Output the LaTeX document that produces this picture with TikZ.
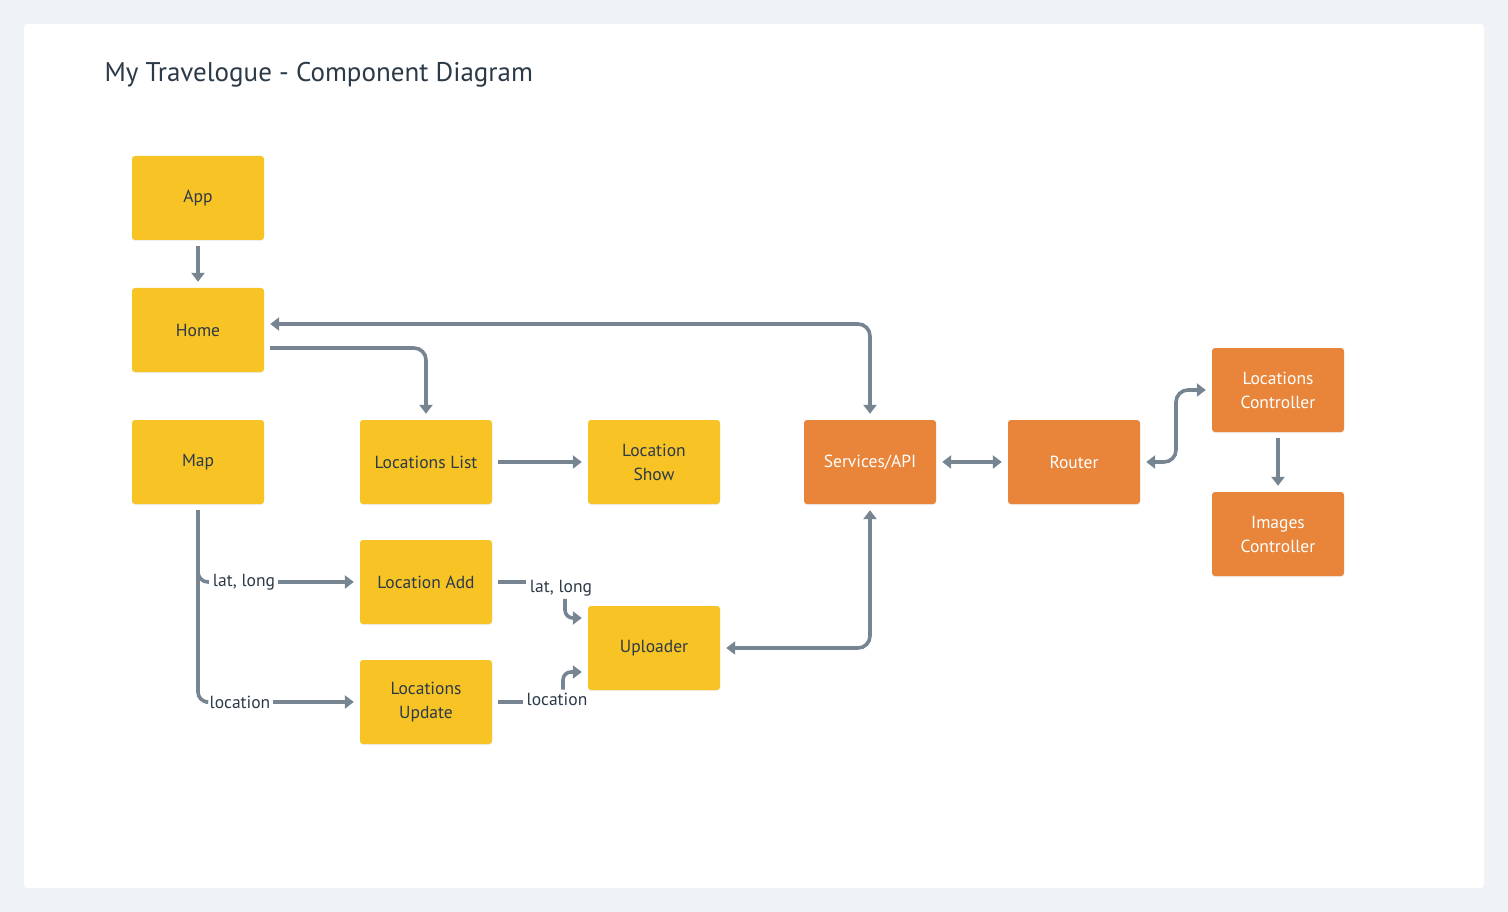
\documentclass[tikz,border=0pt]{standalone}
\usepackage{fontspec}
\setmainfont{PT Sans}
\usetikzlibrary{arrows.meta,calc,shadows}
\definecolor{bgc}{HTML}{F0F3F6}
\definecolor{ycol}{HTML}{F7C325}
\definecolor{ocol}{HTML}{E8853A}
\definecolor{lcol}{HTML}{778592}
\definecolor{tcol}{HTML}{2C3A48}
\tikzset{
  box/.style={minimum width=132pt,minimum height=84pt,inner sep=2pt,align=center,
    rounded corners=3pt,font=\fontsize{17.5}{24}\selectfont,
    drop shadow={shadow xshift=0pt,shadow yshift=-1pt,opacity=0.12}},
  ybox/.style={box,fill=ycol,text=tcol},
  obox/.style={box,fill=ocol,text=white},
  conn/.style={draw=lcol,line width=3.6pt,rounded corners=12pt},
  arr/.style={-{Triangle[length=9pt,width=13pt]}},
  darr/.style={{Triangle[length=9pt,width=13pt]}-{Triangle[length=9pt,width=13pt]}},
  lbl/.style={inner sep=3pt,outer sep=0pt,text=tcol,font=\fontsize{17.5}{18}\selectfont},
}
\begin{document}
\begin{tikzpicture}[x=1pt,y=-1pt]
\fill[bgc] (0,0) rectangle (1508,912);
\useasboundingbox (0,0) rectangle (1508,912);
\fill[white,rounded corners=3pt] (24,24) rectangle (1484,888);
\node[anchor=west,text=tcol,font=\fontsize{27}{30}\selectfont] (title) at (101,75) {My Travelogue - Component Diagram};

\node[ybox] (app) at (198,198) {App};
\node[ybox] (home) at (198,330) {Home};
\node[ybox] (map) at (198,462) {Map};
\node[ybox] (list) at (426,462) {Locations List};
\node[ybox] (show) at (654,462) {Location\\Show};
\node[obox] (api) at (870,462) {Services/API};
\node[obox] (router) at (1074,462) {Router};
\node[obox] (lc) at (1278,390) {Locations\\Controller};
\node[obox] (ic) at (1278,534) {Images\\Controller};
\node[ybox] (add) at (426,582) {Location Add};
\node[ybox] (upd) at (426,702) {Locations\\Update};
\node[ybox] (upl) at (654,648) {Uploader};

\draw[conn,arr] ([yshift=-6pt]app.south) -- ([yshift=6pt]home.north);
\draw[conn,darr] ([xshift=6pt,yshift=6pt]home.east) -| ([yshift=6pt]api.north);
\draw[conn,arr] ([xshift=6pt,yshift=-18pt]home.east) -| ([yshift=6pt]list.north);
\draw[conn,arr] ([xshift=6pt]list.east) -- ([xshift=-6pt]show.west);
\draw[conn,darr] ([xshift=6pt]api.east) -- ([xshift=-6pt]router.west);
\coordinate (rmid) at ($(router.east)!0.5!(lc.west)$);
\draw[conn,darr] ([xshift=6pt]router.east) -| (rmid) |- ([xshift=-6pt]lc.west);
\draw[conn,arr] ([yshift=-6pt]lc.south) -- ([yshift=6pt]ic.north);

\node[lbl] (l1) at (244,582) {lat, long};
\node[lbl] (l2) at (240,702) {location};
\draw[conn,rounded corners=10pt] ([yshift=-6pt]map.south) |- ([xshift=-1pt]l1.west);
\draw[conn,rounded corners=10pt] ([yshift=-6pt]map.south) |- ([xshift=-1pt]l2.west);
\draw[conn,arr] (l1.east) -- ([xshift=-6pt]add.west);
\draw[conn,arr] (l2.east) -- ([xshift=-6pt]upd.west);

\node[lbl] (l3) at (561,588) {lat, long};
\node[lbl] (l4) at (557,699) {location};
\coordinate (e3) at (526,582);
\coordinate (e4) at (523,702);
\draw[conn] ([xshift=6pt]add.east) -- (e3);
\draw[conn] ([xshift=6pt]upd.east) -- (e4);
\draw[conn,arr,rounded corners=8pt] ([xshift=4pt]l3.south) |- ([xshift=-6pt,yshift=30pt]upl.west);
\draw[conn,arr,rounded corners=8pt] ([xshift=6pt]l4.north) |- ([xshift=-6pt,yshift=-24pt]upl.west);

\draw[conn,darr] ([xshift=6pt]upl.east) -| ([yshift=-6pt]api.south);
\end{tikzpicture}
\end{document}
